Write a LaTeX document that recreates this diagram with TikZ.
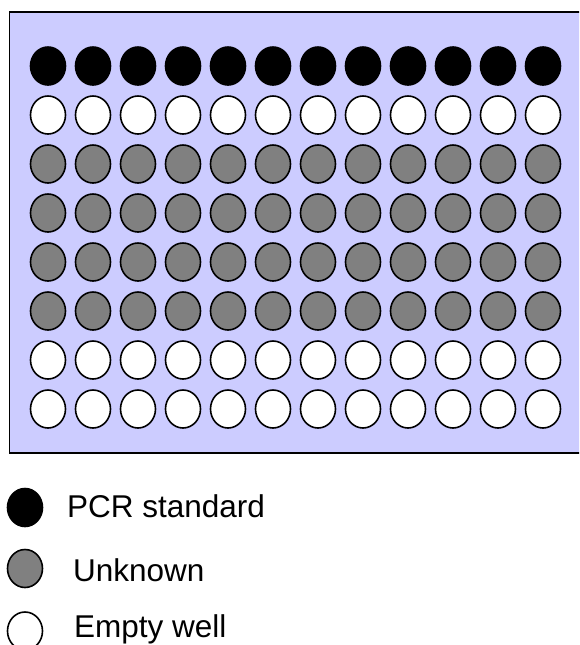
\documentclass[tikz,border=0pt]{standalone}
\usepackage{fontspec}
\setmainfont{Liberation Sans}
\usetikzlibrary{shapes.geometric}
\definecolor{platefill}{HTML}{CCCCFF}
\definecolor{unknowngrey}{HTML}{808080}
\tikzset{
  well/.style={ellipse, draw=black, line width=1.6pt, minimum width=35pt, minimum height=38pt, inner sep=0pt},
  stdwell/.style={well, fill=black},
  unkwell/.style={well, fill=unknowngrey},
  emptywell/.style={well, fill=white},
  plate/.style={draw=black, line width=1.8pt, fill=platefill},
  legendtext/.style={anchor=base west, inner sep=0pt, font=\fontsize{31.5}{38}\selectfont}
}
\begin{document}
\begin{tikzpicture}[x=1pt, y=-1pt]
  \useasboundingbox (0,0) rectangle (579,645);
  \begin{scope}
    \clip (0,0) rectangle (579,645);
    % plate body
    \node[plate, minimum width=575pt, minimum height=441pt, anchor=north west, inner sep=0pt] (plate) at (8.5,11) {};
  \end{scope}
  % 8 x 12 wells: row 1 standards, row 2 empty, rows 3-6 unknowns, rows 7-8 empty
  \foreach \r/\kind in {1/stdwell, 2/emptywell, 3/unkwell, 4/unkwell, 5/unkwell, 6/unkwell, 7/emptywell, 8/emptywell} {
    \foreach \c in {1,...,12} {
      \node[\kind] (w-\r-\c) at ({48 + 45*(\c-1)}, {66 + 49*(\r-1)}) {};
    }
  }
  % legend
  \node[stdwell] (leg-std) at (25,507.5) {};
  \node[legendtext] (lab-std) at (67,517) {PCR standard};
  \node[unkwell] (leg-unk) at (25,568.5) {};
  \node[legendtext] (lab-unk) at (73,581) {Unknown};
  \node[emptywell] (leg-empty) at (25,631) {};
  \node[legendtext] (lab-empty) at (74,637) {Empty well};
\end{tikzpicture}
\end{document}
